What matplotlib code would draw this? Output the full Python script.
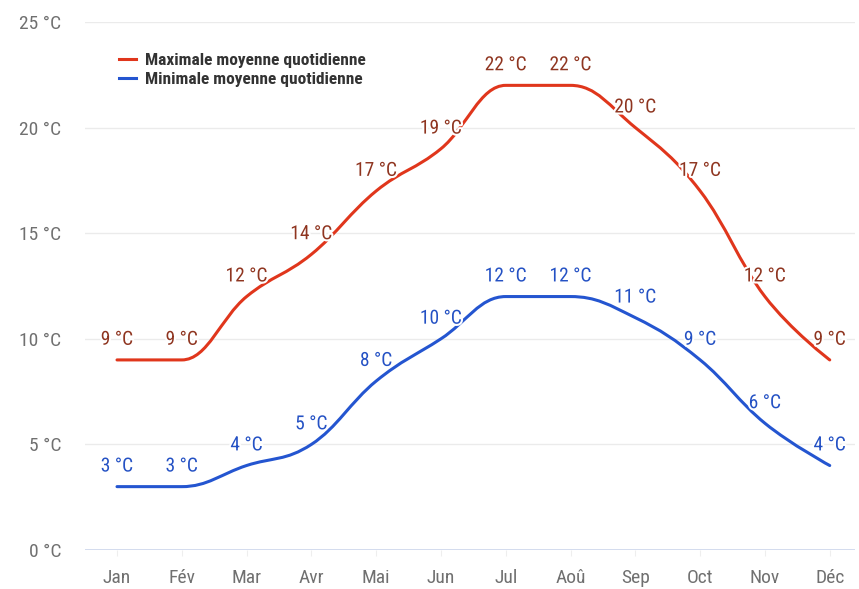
import numpy as np
import matplotlib
matplotlib.use("Agg")
import matplotlib.pyplot as plt
import matplotlib.patheffects as pe
from matplotlib import font_manager
from matplotlib.path import Path
from matplotlib.patches import PathPatch
from matplotlib.lines import Line2D

months = ["Jan", "Fév", "Mar", "Avr", "Mai", "Jun", "Jul", "Aoû", "Sep", "Oct", "Nov", "Déc"]
temp_max = [9, 9, 12, 14, 17, 19, 22, 22, 20, 17, 12, 9]
temp_min = [3, 3, 4, 5, 8, 10, 12, 12, 11, 9, 6, 4]
y_ticks = [0, 5, 10, 15, 20, 25]


def pick_font(candidates):
    for name in candidates:
        try:
            font_manager.findfont(font_manager.FontProperties(family=name), fallback_to_default=False)
            return name
        except ValueError:
            continue
    return "DejaVu Sans"


condensed = pick_font(["Roboto Condensed", "Open Sans Condensed", "DejaVu Sans Condensed",
                       "Liberation Sans Narrow", "Noto Sans"])
plt.rcParams['font.family'] = [condensed, 'DejaVu Sans']
narrow = condensed != "Noto Sans" and condensed != "DejaVu Sans"
fs = 14 if narrow else 12


def spline_path(xs, ys, smoothing=1.5):
    """Cubic bezier path through the points, same control-point rule as a Highcharts spline."""
    n = len(xs)
    left = [(xs[i], ys[i]) for i in range(n)]
    right = [(xs[i], ys[i]) for i in range(n)]
    denom = smoothing + 1
    for i in range(1, n - 1):
        lx, ly = xs[i - 1], ys[i - 1]
        px, py = xs[i], ys[i]
        nx, ny = xs[i + 1], ys[i + 1]
        lcx = (smoothing * px + lx) / denom
        lcy = (smoothing * py + ly) / denom
        rcx = (smoothing * px + nx) / denom
        rcy = (smoothing * py + ny) / denom
        corr = ((rcy - lcy) * (rcx - px)) / (rcx - lcx) + py - rcy
        lcy += corr
        rcy += corr
        if lcy > ly and lcy > py:
            lcy = max(ly, py)
            rcy = 2 * py - lcy
        elif lcy < ly and lcy < py:
            lcy = min(ly, py)
            rcy = 2 * py - lcy
        if rcy > ny and rcy > py:
            rcy = max(ny, py)
            lcy = 2 * py - rcy
        elif rcy < ny and rcy < py:
            rcy = min(ny, py)
            lcy = 2 * py - rcy
        left[i] = (lcx, lcy)
        right[i] = (rcx, rcy)
    verts = [(xs[0], ys[0])]
    codes = [Path.MOVETO]
    for i in range(1, n):
        verts += [right[i - 1], left[i], (xs[i], ys[i])]
        codes += [Path.CURVE4] * 3
    return Path(verts, codes)


fig = plt.figure(figsize=(8.59, 5.89), dpi=100)
ax = fig.add_axes([85 / 859, 1 - 550 / 589, 770 / 859, 528 / 589])

x = np.arange(len(months))
ax.set_xlim(-0.494, 11.39)
ax.set_ylim(0, 25)

for yt in y_ticks[1:]:
    ax.axhline(yt, color="#ebebeb", lw=1.0, zorder=0)
ax.axhline(0, color="#ccd6eb", lw=1.2, zorder=1)

series = [
    (temp_max, "#e0361c", "#8f3520", "Maximale moyenne quotidienne"),
    (temp_min, "#2455d0", "#2451c4", "Minimale moyenne quotidienne"),
]
halo = [pe.withStroke(linewidth=3, foreground="white")]
for vals, line_col, lab_col, name in series:
    path = spline_path(list(x.astype(float)), [float(v) for v in vals])
    ax.add_patch(PathPatch(path, facecolor="none", edgecolor=line_col, lw=2.2,
                           capstyle="round", joinstyle="round", zorder=3))
    for xi, v in zip(x, vals):
        ax.annotate(f"{v} °C", (xi, v), xytext=(0, 8), textcoords="offset points",
                    ha="center", va="bottom", color=lab_col, fontsize=fs, zorder=4,
                    path_effects=halo)

for spine in ax.spines.values():
    spine.set_visible(False)

ax.set_yticks(y_ticks)
ax.set_yticklabels([f"{t} °C" for t in y_ticks], color="#707070", fontsize=fs)
ax.set_xticks(x)
ax.set_xticklabels(months, color="#707070", fontsize=fs)
ax.tick_params(axis="y", length=0, pad=17)
ax.tick_params(axis="x", length=4, color="#eeeeee", pad=10)

handles = [Line2D([], [], color=c, lw=2.2) for _, c, _, _ in series]
labels = [n for _, _, _, n in series]
leg = ax.legend(handles, labels, loc="upper left", bbox_to_anchor=(0.035, 0.955),
                frameon=False, fontsize=fs - 1.5 if narrow else 10.5, handlelength=1.0,
                handletextpad=0.5, labelspacing=0.25, borderaxespad=0)
for t in leg.get_texts():
    t.set_color("#333333")
    t.set_fontweight("semibold")

fig.savefig("out.png", dpi=100, facecolor="white")
